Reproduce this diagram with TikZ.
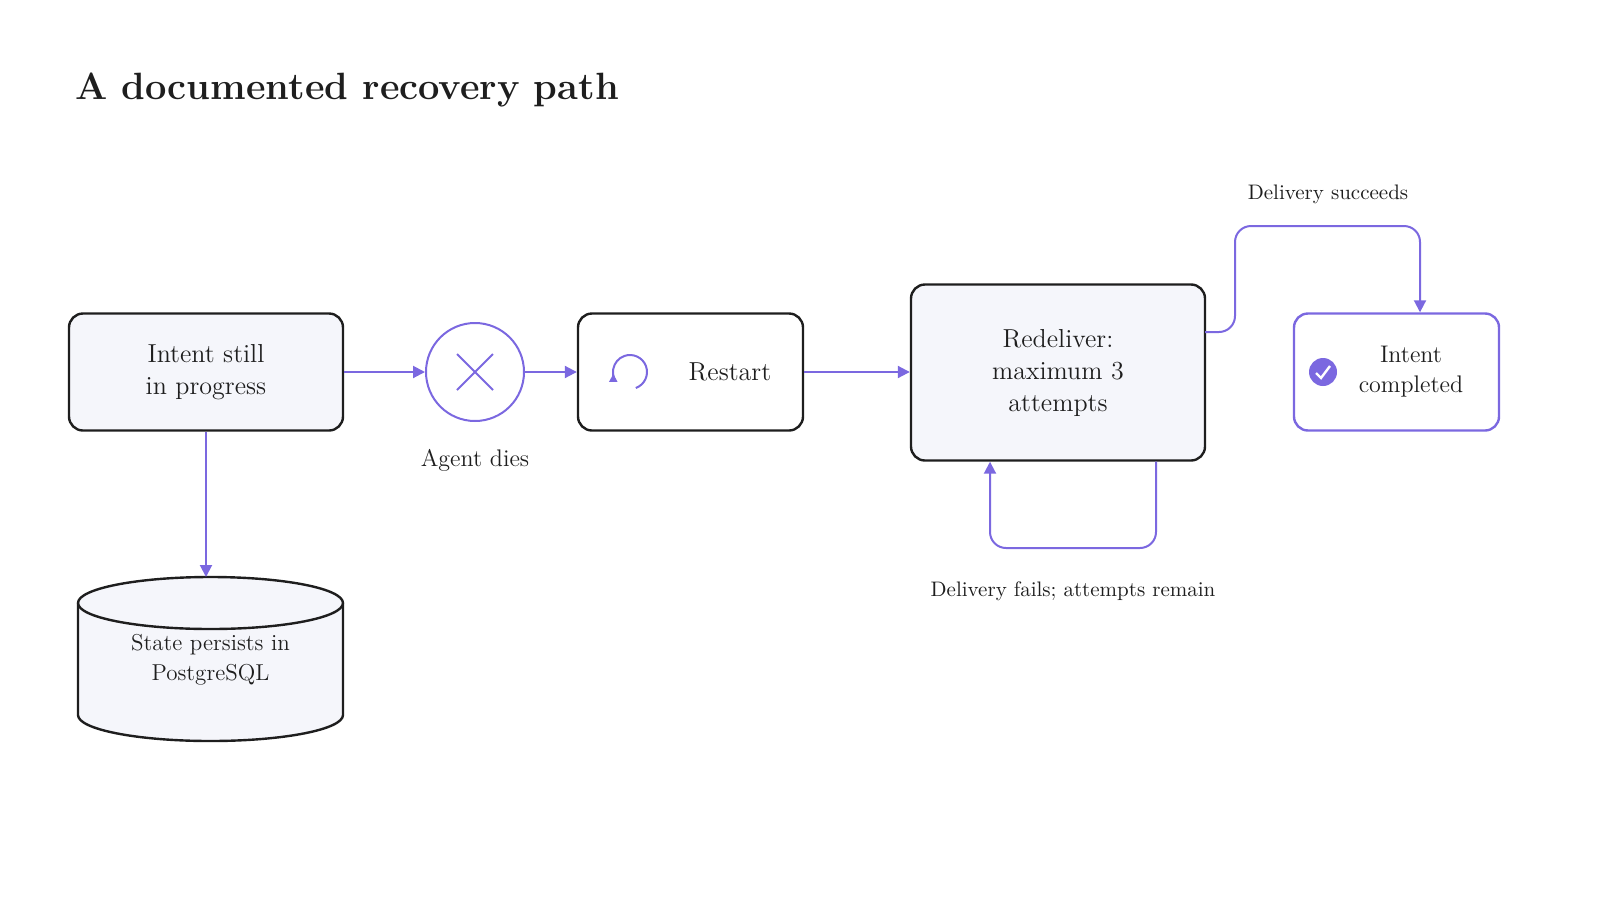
\documentclass[tikz,border=0pt]{standalone}
\usetikzlibrary{arrows.meta,shapes.geometric}
\definecolor{pur}{HTML}{7B68E0}
\definecolor{boxfill}{HTML}{F5F6FB}
\definecolor{ink}{HTML}{1E1E1E}
\begin{document}
\begin{tikzpicture}[x=0.5pt,y=-0.5pt,
  box/.style={draw=ink,line width=1.2pt,rounded corners=7pt,align=center,text=ink,font=\fontsize{13}{16}\selectfont},
  arr/.style={draw=pur,line width=1pt,-{Triangle[length=6pt,width=6pt]},rounded corners=8pt},
  lbl/.style={text=ink,font=\fontsize{10.5}{13}\selectfont}]
\useasboundingbox (0,0) rectangle (1600,900);
\node[anchor=west,text=ink,font=\bfseries\fontsize{19}{22}\selectfont] (title) at (68,90) {A documented recovery path};
\node[box,fill=boxfill,minimum width=137pt,minimum height=58.5pt] (a) at (206,372) {Intent still\\in progress};
\node[circle,draw=pur,line width=1pt,minimum size=49pt,inner sep=0pt] (x) at (475,372) {};
\draw[pur,line width=1pt] (457,354)--(493,390) (457,390)--(493,354);
\node[lbl,font=\fontsize{12}{14}\selectfont] (ad) at (475,460) {Agent dies};
\node[box,fill=white,minimum width=112.5pt,minimum height=58.5pt] (r) at (690.5,372) {};
\node[text=ink,font=\fontsize{13}{16}\selectfont] (rt) at (730,372) {Restart};
\draw[pur,line width=1pt] (630,372) ++(70:17) arc (70:-210:17);
\draw[pur,line width=1pt,-{Triangle[length=4pt,width=4pt]}] (630,372) ++(-190:17) -- ++(0,-1);
\node[box,fill=boxfill,minimum width=147pt,minimum height=88pt] (d) at (1058,372.5) {Redeliver:\\maximum 3\\attempts};
\node[box,draw=pur,fill=white,minimum width=102.5pt,minimum height=58.5pt] (c) at (1396.5,372) {};
\node[text=ink,align=center,font=\fontsize{12}{15}\selectfont] (ct) at (1411,372) {Intent\\completed};
\node[circle,fill=pur,minimum size=14pt,inner sep=0pt] (ck) at (1323,372) {};
\draw[white,line width=1.2pt] (1316,373)--(1321,378)--(1330,366);
\draw[ink,line width=1.2pt,fill=boxfill] (78,603) -- (78,715) arc[start angle=180,end angle=360,x radius=132.5,y radius=-26] -- (343,603) arc[start angle=0,end angle=180,x radius=132.5,y radius=-26] -- cycle;
\draw[ink,line width=1.2pt] (78,603) arc[start angle=180,end angle=360,x radius=132.5,y radius=-26];
\node[text=ink,align=center,font=\fontsize{11.5}{15}\selectfont] (db) at (210.5,660) {State persists in\\PostgreSQL};
\coordinate (dbtop) at (206,577);
\draw[arr] (a.south) -- (dbtop);
\draw[arr] (a.east) -- (x.west);
\draw[arr] (x.east) -- (r.west);
\draw[arr] (r.east) -- (d.west|-r.east);
\coordinate (s1) at (1235,226);
\draw[arr] (1205,332) -| (s1) -| (c.north-|1420,0);
\node[lbl] (ds) at (1328,194) {Delivery succeeds};
\coordinate (l1) at (1073,548);
\draw[arr] (d.south-|1156,0) |- (l1) -| (d.south-|990,0);
\node[lbl] (df) at (1073,591) {Delivery fails; attempts remain};
\end{tikzpicture}
\end{document}
